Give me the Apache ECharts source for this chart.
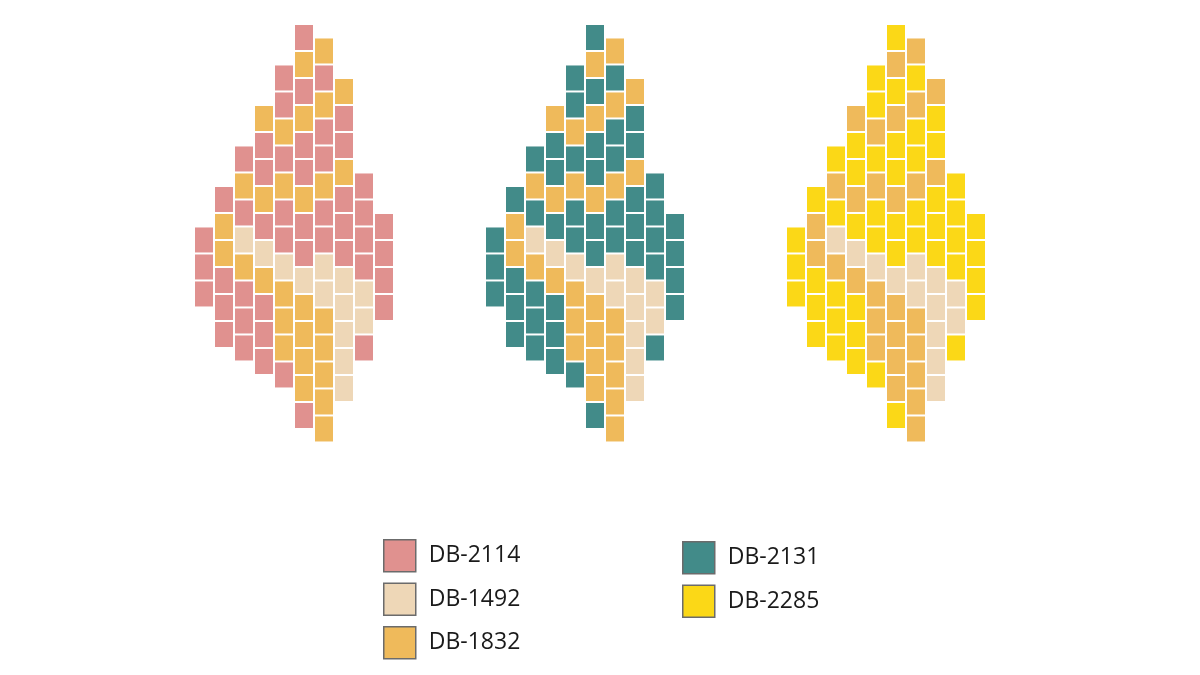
<!DOCTYPE html>
<html>
<head>
<meta charset="utf-8">
<script src="https://cdn.jsdelivr.net/npm/echarts@6/dist/echarts.min.js"></script>
<style>
  html, body { margin: 0; padding: 0; background: #fff; }
  #chart { width: 1200px; height: 675px; }
</style>
</head>
<body>
<div id="chart"></div>
<script>
// bead pattern: per column, first half-row index and colour letters top to bottom
// M = main colour of that diamond, Y = DB-1832, B = DB-1492
var patternStart = [15, 12, 9, 6, 3, 0, 1, 4, 11, 14];
var patternCols = ['MMM', 'MYYMMM', 'MYMBYMMM', 'YMMYMBYMMM', 'MMYMYMMBYYYM',
  'MYMYMMYMMBYYYYM', 'YMYMMYMMBBYYYYY', 'YMMYMMMBBBBB', 'MMMMBBM', 'MMMM'];
var diamondOffsets = [0, 14.55, 29.6];         // in column units
var diamondMain = ['DB-2114', 'DB-2131', 'DB-2285'];
var beadNames = ['DB-2114', 'DB-1492', 'DB-1832', 'DB-2131', 'DB-2285'];
var beadColors = ['#E0918F', '#EED7B7', '#EFBA5B', '#428B89', '#FBD817'];

var cells = {};
beadNames.forEach(function (n) { cells[n] = []; });
diamondOffsets.forEach(function (off, d) {
  patternCols.forEach(function (col, c) {
    for (var i = 0; i < col.length; i++) {
      var ch = col[i];
      var name = ch === 'M' ? diamondMain[d] : (ch === 'Y' ? 'DB-1832' : 'DB-1492');
      cells[name].push([off + c, patternStart[c] + i * 2]);
    }
  });
});

function renderBead(params, api) {
  var p = api.coord([api.value(0), api.value(1)]);
  var s = api.size([1, 2]);
  return {
    type: 'rect',
    shape: { x: p[0], y: p[1], width: s[0] - 2, height: s[1] - 2 },
    style: { fill: api.visual('color') }
  };
}

var series = beadNames.map(function (n, i) {
  return {
    name: n, type: 'custom', renderItem: renderBead,
    itemStyle: { color: beadColors[i] },
    data: cells[n], silent: true, animation: false
  };
});

function legendData(names) {
  return names.map(function (n) {
    return { name: n, itemStyle: { borderColor: '#6b6b6b', borderWidth: 1.5 } };
  });
}
var legendText = { fontSize: 23, color: '#1a1a1a', fontFamily: 'Open Sans', padding: [0, 0, 0, 8] };

var chart = echarts.init(document.getElementById('chart'));
chart.setOption({
  backgroundColor: '#fff',
  grid: { left: 0, right: 0, top: 0, bottom: 0 },
  xAxis: { type: 'value', min: -9.75, max: 50.25, show: false },
  yAxis: { type: 'value', min: -1.85, max: 48.15, inverse: true, show: false },
  legend: [
    { orient: 'vertical', left: 378, top: 534, itemWidth: 32, itemHeight: 32, itemGap: 10,
      icon: 'rect', selectedMode: false, textStyle: legendText,
      data: legendData(['DB-2114', 'DB-1492', 'DB-1832']) },
    { orient: 'vertical', left: 677, top: 536, itemWidth: 32, itemHeight: 32, itemGap: 10,
      icon: 'rect', selectedMode: false, textStyle: legendText,
      data: legendData(['DB-2131', 'DB-2285']) }
  ],
  series: series
});
</script>
</body>
</html>
